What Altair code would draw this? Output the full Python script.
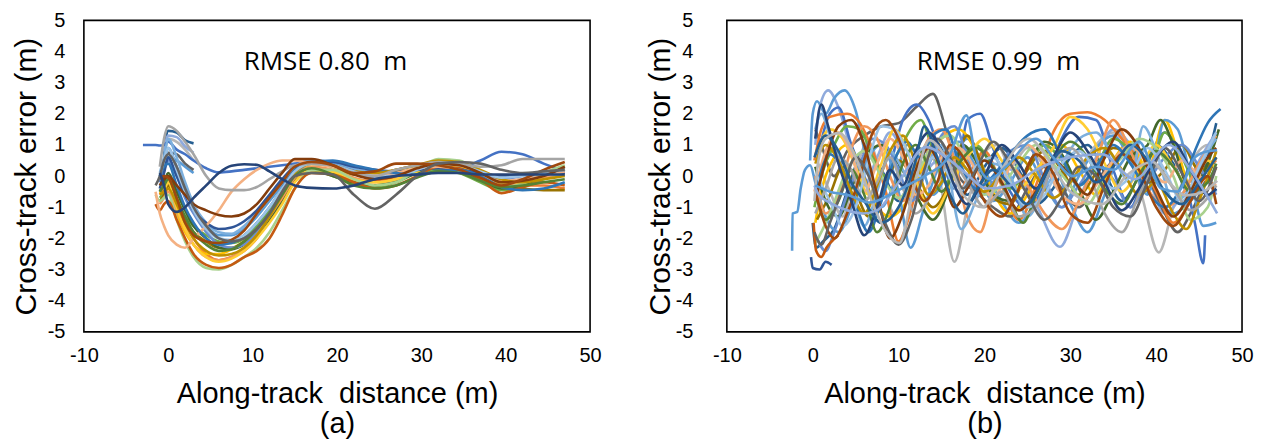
import altair as alt
import pandas as pd

N = None

# ---------------- Panel (a): shared along-track grid (m) ----------------
GA = [-3, -2, -1.5, -1, -0.5, 0, 1, 2, 3, 4.5, 6, 7.5, 9, 10.5, 12, 13.5, 15, 17,
      19.5, 22, 24.5, 27, 29.5, 32, 34.5, 37, 39.5, 42, 44.5, 47]

A01 = [1.0, 1.0, 1.0, 0.98, 1.0, 1.1, 0.85, 0.7, 0.5, 0.25, 0.12, 0.15, 0.2, 0.25, 0.3, 0.35, 0.4, 0.5, 0.45, 0.2, 0.15, 0.1, 0.1, 0.2, 0.25, 0.5, 0.78, 0.7, 0.4, 0.15]
A02 = [N, N, N, -0.6, -0.4, -0.3, -0.9, -1.5, -2.0, -2.5, -2.7, -2.6, -2.4, -2.0, -1.4, -0.8, -0.1, 0.25, 0.1, -0.1, -0.15, -0.05, 0.2, 0.45, 0.35, 0.0, -0.4, -0.3, -0.3, -0.4]
A03 = [N, N, N, 0.3, 1.2, 1.6, 1.45, 1.1, 0.7, 0.0, -0.4, -0.45, -0.45, -0.35, -0.1, 0.15, 0.35, 0.4, 0.35, 0.1, 0.0, 0.2, 0.35, 0.45, 0.4, 0.3, 0.35, 0.55, 0.55, 0.55]
A04 = [N, N, N, -0.5, -0.6, -0.4, -1.2, -1.8, -2.2, -2.5, -2.5, -2.35, -2.1, -1.7, -1.1, -0.5, 0.1, 0.3, 0.1, -0.2, -0.3, -0.15, 0.1, 0.25, 0.2, -0.05, -0.25, -0.15, 0.1, 0.3]
A05 = [N, N, N, 0.0, 0.4, 0.9, 0.3, -0.4, -1.0, -1.6, -1.9, -1.9, -1.7, -1.3, -0.8, -0.3, 0.2, 0.45, 0.4, 0.15, 0.0, 0.05, 0.2, 0.3, 0.2, 0.0, -0.2, -0.1, 0.0, 0.1]
A06 = [N, N, N, -0.7, -0.5, -0.2, -0.8, -1.3, -1.6, -1.9, -2.1, -2.15, -2.0, -1.6, -1.1, -0.5, 0.05, 0.2, 0.0, -0.25, -0.35, -0.2, 0.1, 0.2, 0.1, -0.2, -0.45, -0.35, -0.1, 0.2]
A07 = [N, N, N, 0.1, -0.3, -0.9, -1.15, -1.0, -0.7, -0.3, 0.1, 0.33, 0.38, 0.36, 0.15, -0.1, -0.3, -0.38, -0.4, -0.3, -0.1, 0.0, 0.05, 0.1, 0.1, 0.05, 0.05, 0.05, 0.05, 0.05]
A08 = [N, N, N, -0.1, 0.0, -0.05, -0.7, -1.5, -1.9, -2.1, -2.15, -2.05, -1.75, -1.2, -0.7, -0.2, 0.3, 0.45, 0.35, 0.1, 0.15, 0.4, 0.4, 0.35, 0.2, -0.05, -0.3, -0.1, 0.2, 0.45]
A09 = [N, N, -0.3, 0.0, 0.5, 0.7, 0.3, -0.4, -1.0, -1.6, -2.0, -2.1, -2.0, -1.7, -1.2, -0.5, 0.0, 0.1, 0.05, -0.6, -1.05, -0.6, 0.0, 0.4, 0.45, 0.4, 0.2, 0.1, 0.15, 0.2]
A10 = [N, N, N, -0.8, -0.6, -0.3, -0.9, -1.4, -1.8, -2.1, -2.3, -2.3, -2.1, -1.8, -1.3, -0.6, 0.1, 0.4, 0.3, 0.05, 0.05, 0.2, 0.35, 0.4, 0.3, 0.05, -0.3, -0.4, -0.45, -0.45]
A11 = [N, N, N, N, 0.6, 1.45, 1.4, 1.15, 1.05] + [N] * 21
A12 = [N, N, N, -0.5, -0.2, 0.1, -0.5, -1.1, -1.6, -2.0, -2.3, -2.35, -2.2, -1.9, -1.4, -0.8, -0.1, 0.2, 0.0, -0.2, -0.3, -0.15, 0.1, 0.3, 0.2, -0.1, -0.4, -0.3, 0.0, 0.3]
A13 = [N, N, N, -0.2, 0.2, 0.5, 0.0, -0.7, -1.2, -1.8, -2.2, -2.3, -2.2, -1.8, -1.2, -0.6, 0.0, 0.45, 0.35, 0.1, -0.05, 0.0, 0.2, 0.35, 0.3, 0.1, -0.1, 0.0, 0.1, 0.2]
A14 = [N, N, N, -0.9, -0.7, -0.5, -1.1, -1.7, -2.2, -2.6, -2.7, -2.6, -2.3, -1.9, -1.3, -0.7, -0.05, 0.3, 0.2, -0.05, -0.2, -0.1, 0.2, 0.45, 0.4, 0.1, -0.3, -0.2, -0.05, 0.1]
A15 = [N, N, N, N, 0.4, 1.2, 1.1, 0.85, 0.5] + [N] * 21
A16 = [N, N, N, -0.3, -0.4, -0.2, -1.0, -1.7, -2.2, -2.6, -2.75, -2.65, -2.4, -2.0, -1.5, -0.9, -0.2, 0.2, 0.15, -0.1, -0.2, -0.1, 0.15, 0.35, 0.3, 0.05, -0.2, -0.2, 0.0, 0.2]
A17 = [N, N, N, 0.1, 0.6, 1.2, 0.6, -0.2, -0.9, -1.5, -1.8, -1.85, -1.6, -1.2, -0.7, -0.2, 0.3, 0.5, 0.45, 0.25, 0.1, 0.1, 0.25, 0.3, 0.2, 0.0, -0.15, -0.1, 0.05, 0.0]
A18 = [N, N, -0.6, -0.8, -0.7, -0.6, -1.4, -2.1, -2.6, -2.95, -3.0, -2.85, -2.6, -2.3, -1.8, -1.1, -0.4, 0.2, 0.2, -0.1, -0.3, -0.2, 0.2, 0.55, 0.5, 0.1, -0.35, -0.25, 0.1, 0.35]
A19 = [N, N, N, -0.4, 0.1, 0.6, 0.0, -0.6, -1.1, -1.5, -1.7, -1.65, -1.45, -1.1, -0.6, -0.1, 0.3, 0.45, 0.45, 0.3, 0.2, 0.15, 0.2, 0.25, 0.2, 0.1, 0.0, 0.05, 0.1, 0.1]
A20 = [N, N, -0.9, -1.1, -0.9, -0.8, -1.4, -2.0, -2.5, -2.85, -2.95, -2.85, -2.6, -2.4, -2.0, -1.25, -0.4, 0.1, 0.05, -0.2, -0.4, -0.3, 0.0, 0.3, 0.25, -0.1, -0.55, -0.35, -0.2, -0.3]
A21 = [N, N, -0.5, -1.2, -1.6, -1.9, -2.2, -2.3, -2.0, -1.6, -1.1, -0.5, -0.1, 0.2, 0.4, 0.5, 0.5, 0.4, 0.3, 0.15, 0.05, 0.1, 0.25, 0.3, 0.2, 0.0, -0.15, -0.1, 0.0, 0.15]
A22 = [N, N, N, -0.3, -0.1, 0.0, -0.3, -0.6, -0.9, -1.1, -1.25, -1.3, -1.2, -0.9, -0.4, 0.1, 0.55, 0.55, 0.35, 0.05, -0.1, 0.0, 0.25, 0.4, 0.35, 0.1, -0.2, -0.15, 0.0, 0.3]
A23 = [N, N, N, N, 0.3, 0.75, 0.7, 0.4, 0.2] + [N] * 21
A24 = [N, N, N, 0.0, 0.3, 0.4, -0.3, -1.0, -1.5, -2.0, -2.2, -2.15, -1.9, -1.5, -1.0, -0.4, 0.2, 0.45, 0.5, 0.35, 0.2, 0.1, 0.05, 0.15, 0.2, 0.0, -0.35, -0.45, -0.4, -0.2]
A25 = [N, N, N, -0.6, -0.5, -0.4, -0.9, -1.5, -2.0, -2.4, -2.55, -2.5, -2.3, -1.9, -1.3, -0.6, 0.1, 0.4, 0.35, 0.15, 0.1, 0.2, 0.35, 0.5, 0.45, 0.2, -0.1, -0.2, -0.1, 0.0]
A26 = [N, N, N, -0.5, -0.3, -0.1, -0.7, -1.3, -1.8, -2.2, -2.4, -2.35, -2.1, -1.7, -1.2, -0.6, 0.0, 0.25, 0.05, -0.3, -0.4, -0.3, -0.05, 0.15, 0.1, -0.15, -0.35, -0.3, -0.2, -0.1]
A27 = [N, N, N, 0.0, 0.5, 0.9, 0.2, -0.5, -1.1, -1.7, -2.0, -2.05, -1.9, -1.5, -1.0, -0.4, 0.15, 0.4, 0.35, 0.15, 0.0, 0.0, 0.2, 0.4, 0.35, 0.15, -0.05, 0.0, 0.1, 0.2]
A28 = [N, N, N, N, 0.8, 1.3, 1.25, 0.95, 0.75] + [N] * 21
A29 = [N, N, N, N, 0.2, 0.6, 0.5, 0.3, 0.1] + [N] * 21

A_SERIES = [A11, A15, A28, A29, A23, A01, A02, A04, A05, A06, A10, A12, A13, A14, A16,
            A17, A18, A19, A20, A21, A24, A25, A26, A27, A03, A22, A08, A09, A07]
A_COLORS = ["#255E91", "#B7B7B7", "#8FAADC", "#5B9BD5", "#636363", "#4472C4", "#ED7D31",
            "#FFC000", "#5B9BD5", "#70AD47", "#997300", "#43682B", "#698ED0", "#F1975A",
            "#FFCD33", "#7CAFDD", "#A9D18E", "#2F5597", "#C55A11", "#F4B183", "#2E75B6",
            "#BF9000", "#548235", "#9DC3E6", "#A5A5A5", "#843C0C", "#9E480E", "#636363",
            "#264478"]

# ---------------- Panel (b): (along-track, cross-track) pairs ----------------
B04 = [(0.0,-1.5),(0.4,-2.3),(1.2,-2.1),(2.5,-1.7),(4.0,-0.5),(6.0,0.8),(8.0,0.2),(10.0,-0.8),(12.0,0.4),(14.0,1.2),(16.0,0.3),(18.0,-0.6),(20.0,0.3),(22.0,0.9),(24.0,0.2),(26.0,-0.9),(28.0,-0.4),(30.0,0.6),(32.0,1.0),(34.0,0.1),(36.0,-0.8),(38.0,0.0),(40.0,1.0),(42.0,0.4),(44.0,-0.6),(46.0,0.6),(47.0,1.7)]
B05 = [(0.5,0.5),(2.0,-0.5),(3.5,-1.3),(5.0,0.2),(6.5,1.1),(8.0,0.0),(9.5,-1.2),(11.0,-0.3),(13.0,0.8),(14.5,0.3),(16.5,-2.75),(18.0,-1.0),(19.5,0.6),(21.5,1.0),(23.0,0.3),(25.0,0.9),(27.0,0.3),(29.0,-0.5),(31.0,0.2),(33.0,1.0),(35.0,1.4),(37.0,0.8),(38.5,-0.8),(40.3,-2.45),(42.0,-1.0),(44.0,0.4),(46.0,1.0),(47.0,0.7)]
B06 = [(0.3,1.0),(0.8,2.2),(1.8,2.75),(3.0,2.2),(4.5,0.8),(6.0,-0.3),(7.5,0.6),(9.0,1.4),(10.5,0.8),(12.0,-0.2),(14.0,0.4),(16.0,0.8),(18.0,0.2),(20.0,-0.3),(22.0,0.3),(24.0,0.0),(26.0,-0.9),(28.8,-2.27),(31.0,-0.8),(33.0,0.6),(35.0,1.5),(37.0,1.0),(39.0,0.0),(41.0,-1.2),(43.0,-0.6),(45.0,0.5),(47.0,1.4)]
B07 = [(-0.3,0.5),(0.0,2.0),(0.5,2.4),(1.5,2.0),(2.5,2.5),(3.7,2.75),(5.0,2.1),(6.5,0.2),(8.0,-1.0),(9.5,-0.2),(11.0,1.0),(12.5,0.5),(14.0,-0.6),(16.0,0.3),(18.0,1.2),(20.0,0.2),(22.0,-0.8),(24.0,-1.5),(26.0,-0.8),(28.0,0.3),(30.0,-0.9),(32.0,-1.8),(34.0,-0.6),(36.0,0.8),(38.0,0.4),(40.0,-0.6),(42.0,-1.2),(44.0,-0.8),(46.0,-0.2),(47.0,-0.5)]
B08 = [(0.3,1.5),(1.0,1.0),(2.5,0.0),(4.0,0.8),(6.0,1.3),(8.0,1.6),(10.0,1.7),(12.0,2.2),(14.0,2.64),(15.5,1.5),(17.0,0.0),(19.0,-0.5),(21.0,-1.0),(23.0,-1.3),(25.0,-0.4),(27.0,0.3),(29.0,-0.4),(31.0,-1.0),(33.0,-0.2),(35.0,0.5),(37.0,0.8),(39.0,0.0),(41.0,-1.2),(42.5,-1.8),(44.0,-1.2),(46.0,0.0),(47.0,0.6)]
B09 = [(0.5,0.5),(2.0,2.0),(3.0,2.2),(4.5,1.0),(6.0,0.0),(7.5,-1.0),(9.0,0.3),(10.5,1.8),(12.1,2.3),(13.5,1.8),(15.0,0.6),(16.5,-0.4),(18.0,1.8),(19.5,2.0),(21.0,0.9),(23.0,-0.5),(25.0,-1.0),(27.0,-0.3),(29.0,1.2),(31.0,1.9),(33.0,1.8),(35.0,0.2),(37.0,-1.0),(39.0,0.4),(41.0,1.4),(43.0,0.3),(44.5,-1.5),(45.5,-2.8),(45.7,-1.9)]
B10 = [(0.2,0.5),(1.0,1.5),(2.0,1.9),(4.0,2.0),(5.5,1.7),(7.0,0.8),(8.5,-0.5),(10.0,-2.1),(11.0,-1.5),(12.5,0.0),(14.0,1.0),(15.5,0.4),(17.0,-0.5),(18.5,0.2),(20.0,0.8),(22.0,-0.3),(24.0,-1.4),(26.0,-0.3),(28.0,1.4),(30.0,2.0),(32.0,2.05),(34.0,1.8),(36.0,1.2),(38.0,0.5),(40.0,-0.5),(42.0,-1.5),(44.0,-0.8),(46.0,0.3),(47.0,0.5)]
B11 = [(0.3,-1.5),(1.0,-0.5),(2.5,0.6),(4.0,1.0),(5.5,0.3),(7.0,-0.8),(9.0,-1.3),(11.0,-0.8),(13.0,0.4),(15.0,1.2),(17.0,1.5),(19.0,0.8),(21.0,-0.5),(23.0,-1.2),(25.0,-0.6),(27.0,0.6),(29.0,1.0),(31.0,0.2),(33.0,-0.6),(35.0,0.5),(37.0,1.1),(39.0,0.2),(41.0,1.8),(42.5,0.8),(44.0,-0.3),(46.0,0.2),(47.0,0.6)]
B12 = [(-2.4,-2.4),(-2.35,-1.2),(-1.8,-1.15),(-1.4,-0.4),(-0.9,0.2),(-0.3,0.35),(0.3,-0.2),(1.5,-1.3),(3.0,-1.8),(4.5,-1.0),(6.0,0.3),(8.0,1.0),(10.0,-0.5),(11.4,-2.3),(13.0,-1.0),(15.0,0.5),(17.0,1.1),(19.0,0.3),(21.0,-0.8),(23.0,-0.2),(25.0,0.6),(27.0,-0.3),(29.0,-1.0),(31.0,0.0),(33.0,0.9),(35.0,1.3),(37.0,0.5),(39.0,-0.6),(41.0,1.8),(42.5,1.5),(44.0,0.0),(45.5,-1.6),(47.0,-1.5)]
B13 = [(0.2,-1.0),(1.0,0.0),(2.5,1.0),(4.0,1.6),(5.5,1.5),(7.0,0.6),(8.5,0.0),(10.0,0.8),(12.6,1.8),(14.0,0.8),(15.5,-0.2),(17.0,0.4),(19.0,1.0),(21.0,0.3),(23.0,-0.4),(25.0,0.2),(27.0,1.0),(29.0,0.5),(31.0,-0.3),(33.0,0.3),(35.0,1.2),(37.0,0.8),(39.0,0.0),(41.0,1.4),(43.0,0.6),(45.0,-0.4),(47.0,0.3)]
B14 = [(0.5,-1.4),(2.0,-0.6),(3.5,0.3),(5.0,-0.5),(6.5,-1.3),(8.0,-0.6),(10.0,0.5),(12.0,-0.2),(14.0,-1.0),(16.0,-0.2),(18.0,1.3),(19.5,0.5),(21.0,-0.7),(23.0,-0.9),(25.0,0.2),(27.0,0.8),(29.0,0.2),(31.0,-0.6),(33.0,0.1),(35.0,0.9),(37.0,0.6),(39.0,-0.2),(41.0,0.2),(43.0,1.0),(45.0,0.2),(47.0,0.6)]
B15 = [(0.3,0.3),(1.5,-0.8),(3.0,-1.3),(4.5,-0.4),(6.0,0.6),(8.0,1.0),(10.0,0.4),(12.0,-0.6),(14.0,-1.4),(16.0,-0.3),(17.5,1.0),(19.0,0.5),(21.0,-0.6),(23.0,-0.8),(25.0,0.3),(27.0,1.1),(29.0,0.7),(31.0,-0.4),(33.0,-1.4),(35.0,-0.5),(37.0,0.6),(39.0,1.0),(40.5,1.8),(42.0,1.0),(44.0,-0.5),(46.0,0.4),(47.3,1.5)]
B16 = [(0.5,-2.0),(1.5,-2.4),(2.5,-1.8),(4.0,-0.6),(5.5,0.4),(7.0,1.2),(8.5,1.0),(10.0,0.2),(11.5,-0.8),(13.0,0.0),(15.0,1.3),(16.5,1.6),(18.0,0.6),(19.5,-0.6),(21.0,-0.2),(23.0,0.8),(25.0,1.0),(27.0,-0.1),(29.0,-1.0),(31.0,-0.3),(33.0,0.4),(35.0,-0.1),(37.0,-1.0),(39.0,-0.2),(41.0,0.6),(43.0,1.0),(45.0,0.3),(47.0,-0.6)]
B17 = [(0.3,0.0),(1.5,-1.2),(3.0,-0.6),(4.5,0.9),(6.0,1.6),(7.5,1.2),(9.0,0.0),(10.5,-0.8),(12.0,0.2),(13.5,1.2),(15.0,1.5),(16.5,0.5),(18.0,-1.3),(19.5,-1.8),(21.0,-0.5),(23.0,0.3),(25.0,-0.3),(27.0,-1.2),(29.0,-1.7),(31.0,-0.8),(33.0,0.5),(35.0,1.8),(37.0,0.8),(39.0,-0.4),(41.0,-1.0),(43.0,-0.6),(45.0,0.4),(47.0,1.3)]
B18 = [(0.5,0.8),(2.0,1.5),(3.5,1.2),(5.0,0.3),(6.5,-0.6),(8.0,0.4),(9.5,1.5),(11.0,0.8),(12.5,-0.5),(14.0,-1.2),(16.0,-0.3),(18.0,0.6),(20.0,1.2),(22.0,0.5),(24.0,-0.4),(26.0,0.2),(28.0,0.9),(30.0,1.9),(32.0,1.5),(34.0,0.4),(36.0,-0.5),(38.0,0.2),(40.0,1.0),(42.0,0.3),(44.0,-0.4),(46.0,0.5),(47.0,0.2)]
B19 = [(0.3,1.5),(1.0,2.0),(2.0,1.3),(3.5,0.2),(5.0,-1.0),(6.0,-1.6),(7.5,-0.5),(9.0,0.8),(10.5,0.2),(12.0,-0.5),(13.5,0.4),(15.0,1.0),(17.3,-1.7),(19.0,-0.8),(21.0,0.4),(23.0,0.0),(25.0,-1.3),(27.0,-0.4),(29.0,0.4),(31.0,1.2),(33.0,1.4),(35.0,0.6),(37.0,-0.2),(38.5,1.6),(40.0,0.8),(42.0,-0.8),(44.0,-0.4),(46.0,0.8),(47.0,1.2)]
B20 = [(0.2,-2.2),(1.0,-1.8),(2.0,-1.2),(4.0,0.2),(6.0,0.8),(8.0,0.0),(10.0,-0.7),(12.0,0.0),(14.0,1.0),(16.0,1.3),(18.0,0.4),(20.0,-0.6),(22.0,-0.3),(24.0,0.4),(26.0,1.0),(28.0,0.4),(30.0,-0.3),(32.0,-0.9),(34.0,0.0),(36.0,0.6),(38.0,1.2),(40.0,0.9),(42.0,0.0),(44.0,-1.4),(46.0,-1.0),(47.0,0.0)]
B21 = [(-0.2,-2.6),(0.0,-2.95),(0.8,-3.0),(1.5,-2.75),(2.2,-2.85)]
B22 = [(0.1,-1.5),(0.4,-2.4),(1.0,-2.6),(1.6,-2.3),(2.2,-2.1),(3.0,-1.9)]
B23 = [(0.2,-0.5),(1.5,0.8),(3.0,1.4),(4.5,0.7),(6.0,-0.5),(7.5,0.4),(9.0,1.2),(10.5,0.6),(12.0,-0.6),(13.5,-0.3),(15.0,0.6),(17.0,0.9),(19.0,0.2),(21.0,-0.7),(23.0,0.3),(25.0,1.0),(27.0,0.4),(29.0,-0.6),(31.0,-0.9),(33.0,-0.3),(35.0,0.5),(37.0,1.0),(39.0,0.4),(41.0,-0.2),(43.0,0.5),(45.0,0.0),(47.0,-0.3)]
B24 = [(0.5,-0.3),(2.0,0.7),(3.5,0.2),(5.0,-0.9),(6.5,-1.8),(8.0,-0.8),(9.5,0.5),(11.0,1.1),(12.5,0.6),(14.0,1.3),(15.5,1.5),(17.0,0.5),(19.0,-0.4),(21.0,0.0),(23.0,0.7),(25.0,1.3),(27.0,1.5),(29.0,0.6),(31.0,-0.3),(33.0,0.3),(35.0,1.0),(37.0,0.4),(39.0,-0.5),(41.0,-1.0),(43.0,-0.3),(44.5,0.8),(46.0,1.7),(47.5,2.15)]
B25 = [(0.3,0.4),(1.5,1.0),(3.0,0.5),(4.5,-0.5),(6.0,-1.2),(7.5,-0.3),(9.0,0.8),(10.5,1.3),(12.0,0.4),(13.5,-0.6),(15.0,-0.2),(16.5,0.6),(18.0,0.2),(20.0,-0.5),(22.0,0.1),(24.0,0.6),(26.0,0.0),(28.0,-0.7),(30.0,-0.2),(32.0,0.6),(34.0,0.9),(36.0,0.2),(38.0,-0.6),(40.0,-0.2),(42.0,-1.2),(43.5,-1.7),(45.0,-0.8),(47.0,0.8)]
B26 = [(0.3,-0.5),(1.5,-1.4),(3.0,-0.8),(4.5,0.2),(6.0,-0.6),(7.5,-1.8),(9.0,-1.0),(10.5,0.4),(12.0,1.0),(13.5,0.3),(15.0,-0.5),(17.0,0.4),(19.0,0.9),(21.0,0.3),(23.0,-0.8),(24.5,-1.5),(26.0,-0.6),(28.0,0.5),(30.0,1.1),(32.0,0.6),(34.0,-0.4),(36.0,-0.9),(38.0,0.0),(40.0,0.8),(42.0,0.3),(44.0,-0.5),(46.0,-0.2),(47.0,0.4)]
B27 = [(0.5,0.0),(2.0,-0.8),(3.5,-1.6),(5.0,-1.0),(6.5,0.5),(8.0,1.6),(9.5,1.5),(11.0,0.8),(12.5,0.0),(14.0,0.6),(15.5,0.2),(17.0,-0.5),(19.0,0.3),(21.0,0.6),(23.0,-0.2),(25.0,-1.0),(27.0,-0.6),(29.0,0.4),(31.0,0.8),(33.0,0.2),(35.0,-0.4),(37.0,0.0),(39.0,0.9),(41.0,0.2),(43.0,-0.8),(45.0,0.3),(47.0,1.4)]
B28 = [(0.3,-1.2),(1.5,-0.4),(3.0,0.6),(4.5,0.2),(6.0,-0.8),(7.5,-0.2),(9.0,0.6),(10.5,-0.4),(12.0,-1.2),(14.0,-0.5),(16.0,0.5),(18.0,-0.2),(20.0,-1.0),(22.0,-0.5),(24.0,-1.3),(26.0,-1.0),(28.0,0.4),(30.0,0.9),(32.0,0.2),(34.0,-1.2),(36.0,-1.8),(38.0,-0.6),(40.0,0.3),(42.0,-0.4),(44.0,-1.1),(46.0,-0.7),(47.0,-0.3)]
B29 = [(0.3,-0.8),(1.5,0.5),(3.0,1.6),(4.5,1.8),(6.0,1.0),(7.5,-0.6),(9.0,-2.0),(10.5,-1.2),(12.0,0.2),(13.5,0.9),(15.0,0.2),(16.5,-1.0),(18.0,-0.4),(20.0,0.5),(22.0,-0.2),(24.0,-1.1),(26.0,-0.5),(28.0,0.5),(30.0,0.0),(32.0,-0.6),(34.0,0.6),(36.0,1.5),(38.0,0.9),(40.0,-0.4),(42.0,-1.3),(44.0,-0.5),(46.0,0.6),(47.0,0.9)]
B30 = [(0.4,-0.6),(1.5,-1.6),(2.5,-2.0),(4.0,-1.2),(5.5,0.0),(7.0,1.4),(8.5,1.8),(10.0,1.2),(11.5,0.0),(13.0,-0.8),(14.5,-0.2),(16.0,1.0),(18.0,0.4),(20.0,-0.8),(22.0,-1.3),(24.0,-0.4),(26.0,0.7),(28.0,0.1),(30.0,-1.2),(32.0,-1.5),(34.0,-0.3),(36.0,0.7),(38.0,0.2),(40.0,-1.0),(42.0,-1.6),(44.0,-0.8),(46.0,0.0),(47.0,-0.9)]
B31 = [(0.2,-1.8),(1.0,-2.2),(2.0,-1.5),(3.5,-0.4),(5.0,0.6),(6.5,0.0),(8.0,-1.2),(10.0,-2.2),(11.5,-1.4),(13.0,0.2),(14.5,1.2),(16.0,0.6),(17.5,-0.4),(19.0,0.2),(21.0,1.1),(23.0,0.4),(25.0,-0.6),(27.0,-1.4),(29.0,-0.7),(31.0,0.3),(33.0,0.0),(35.0,-1.0),(37.0,-1.3),(39.0,-0.2),(41.0,0.9),(43.0,0.1),(45.0,-0.8),(47.0,0.3)]
B32 = [(0.3,1.2),(1.0,2.3),(1.8,1.6),(3.0,0.4),(4.5,-0.8),(6.0,-1.9),(7.5,-1.0),(9.0,0.2),(10.5,-0.3),(12.0,0.8),(13.5,1.4),(15.0,0.8),(16.5,-0.3),(18.0,-0.9),(20.0,0.0),(22.0,1.0),(24.0,0.4),(26.0,-0.4),(28.0,0.6),(30.0,1.4),(32.0,0.8),(34.0,-0.2),(36.0,-1.1),(38.0,-0.4),(40.0,0.6),(42.0,1.1),(44.0,0.2),(46.0,-0.6),(47.0,-0.4)]
B33 = [(0.2,0.6),(1.5,1.3),(3.0,0.8),(4.5,-0.2),(6.0,-0.8),(8.0,-1.5),(10.0,-1.0),(12.0,0.5),(13.0,1.6),(14.5,0.6),(16.0,-0.6),(17.5,-1.2),(19.0,-0.5),(21.0,0.2),(23.0,-0.3),(25.0,-0.9),(27.0,0.0),(29.0,0.8),(31.0,0.5),(33.0,-0.2),(35.0,0.3),(37.0,1.0),(39.0,0.5),(41.0,-0.5),(43.0,-0.9),(45.0,-0.2),(47.0,0.6)]
B01 = [(0.2,-0.8),(0.6,0.4),(1.5,1.2),(3.1,1.38),(5.0,0.6),(7.0,-0.9),(8.8,-1.9),(10.1,-2.15),(11.6,-0.6),(13.6,1.15),(15.5,0.6),(17.5,-0.6),(19.8,-1.0),(22.0,0.2),(25.2,1.2),(27.5,0.5),(30.0,-0.5),(33.7,-0.9),(36.5,0.0),(39.6,0.45),(41.5,-0.2),(43.5,-0.62),(45.5,-0.5),(47.1,-0.15)]
B02 = [(0.2,-0.3),(0.7,-0.6),(2.0,-0.85),(4.0,-1.1),(5.8,-1.2),(7.5,-1.1),(10.0,-0.2),(13.2,0.93),(16.0,0.5),(18.0,0.05),(20.2,-0.4),(23.0,-0.3),(26.0,0.2),(29.9,0.6),(33.7,0.7),(37.5,-0.1),(41.5,1.0),(44.0,0.2),(47.1,-1.2)]
B03 = [(0.3,-0.3),(2.0,-0.5),(4.0,-0.6),(6.6,-0.85),(9.0,-0.6),(11.0,-0.3),(13.0,0.0),(16.0,0.7),(17.9,1.95),(19.0,0.6),(20.6,-0.1),(22.5,0.3),(26.0,1.2),(28.0,0.6),(30.3,0.0),(33.0,0.3),(35.0,0.2),(38.0,1.1),(40.6,-0.4),(42.5,-0.5),(44.5,0.6),(46.0,0.8),(47.1,0.83)]

B_SERIES = [B04, B05, B06, B07, B08, B09, B10, B11, B12, B13, B14, B15, B16, B17, B18,
            B19, B20, B21, B22, B23, B24, B25, B26, B27, B28, B29, B30, B31, B32, B33,
            B01, B02, B03]
B_COLORS = ["#2F5597", "#C55A11", "#A9D18E", "#F4B183", "#997300", "#43682B", "#FFC000",
            "#5B9BD5", "#698ED0", "#A5A5A5", "#B7B7B7", "#4472C4", "#7CAFDD", "#F1975A",
            "#FFD966", "#70AD47", "#255E91", "#636363", "#1F3864", "#9DC3E6", "#9E480E",
            "#BF9000", "#ED7D31", "#8CC168", "#F8CBAD", "#FFC000", "#70AD47", "#5B9BD5",
            "#F1975A", "#A5A5A5", "#843C0C", "#636363", "#264478"]

X_TICKS = [-10, 0, 10, 20, 30, 40, 50]
Y_TICKS = [-5, -4, -3, -2, -1, 0, 1, 2, 3, 4, 5]
RMSE_TEXT = ["RMSE 0.80\u00a0\u00a0m", "RMSE 0.99\u00a0\u00a0m"]
SUB_LABELS = ["(a)", "(b)"]
X_TITLE = "Along-track\u00a0\u00a0distance (m)"
Y_TITLE = "Cross-track error (m)"

AX_FONT = "Liberation Sans"
TXT_FONT = "Open Sans"


def frame_a():
    rows = []
    for i, vals in enumerate(A_SERIES):
        for x, y in zip(GA, vals):
            if y is not None:
                rows.append({"s": f"a{i:02d}", "x": x, "y": y})
    return pd.DataFrame(rows)


def frame_b():
    rows = []
    for i, pts in enumerate(B_SERIES):
        for x, y in pts:
            rows.append({"s": f"b{i:02d}", "x": x, "y": y})
    return pd.DataFrame(rows)


def panel(df, prefix, colors, w, rmse, rmse_x, sub, ylabpad, ytitlex):
    names = [f"{prefix}{i:02d}" for i in range(len(colors))]
    xaxis = alt.Axis(values=X_TICKS, title=[X_TITLE, sub], grid=False, domain=False,
                     ticks=False, tickSize=0, labelFont=AX_FONT, labelFontSize=20,
                     labelColor="black", labelPadding=14, labelFlush=False,
                     labelOverlap=False, labelExpr="'' + datum.value",
                     titleFont=AX_FONT, titleFontSize=29,
                     titleFontWeight="normal", titleColor="black", titleLineHeight=30,
                     titleBaseline="alphabetic", titleY=71)
    yaxis = alt.Axis(values=Y_TICKS, title=Y_TITLE, grid=False, domain=False,
                     ticks=False, tickSize=0, labelFont=AX_FONT, labelFontSize=20,
                     labelColor="black", labelPadding=ylabpad, labelFlush=False,
                     labelOverlap=False, labelExpr="'' + datum.value",
                     titleFont=AX_FONT, titleFontSize=30,
                     titleFontWeight="normal", titleColor="black",
                     titleBaseline="middle", titleX=ytitlex)
    lines = alt.Chart(df).mark_line(strokeWidth=2.6, interpolate="monotone").encode(
        x=alt.X("x:Q", scale=alt.Scale(domain=[-10, 50], nice=False, zero=False), axis=xaxis),
        y=alt.Y("y:Q", scale=alt.Scale(domain=[-5, 5], nice=False, zero=False), axis=yaxis),
        color=alt.Color("s:N", scale=alt.Scale(domain=names, range=colors), legend=None),
    )
    label = alt.Chart(pd.DataFrame({"t": [rmse]})).mark_text(
        font=TXT_FONT, fontSize=26, align="center", baseline="alphabetic", color="black"
    ).encode(text="t:N", x=alt.value(rmse_x), y=alt.value(50))
    return alt.layer(lines, label).properties(width=w, height=312)


pa = panel(frame_a(), "a", A_COLORS, 507, RMSE_TEXT[0], 242, SUB_LABELS[0], 19, -57)
pb = panel(frame_b(), "b", B_COLORS, 516, RMSE_TEXT[1], 272, SUB_LABELS[1], 34, -66)

chart = alt.hconcat(pa, pb, spacing=137, bounds="flush").properties(
    padding={"left": 3, "top": 1, "right": 5, "bottom": 5},
    background="white",
).configure_view(stroke="black", strokeWidth=1.6)

chart.save("out.html", embed_options={"renderer": "svg", "actions": False})
